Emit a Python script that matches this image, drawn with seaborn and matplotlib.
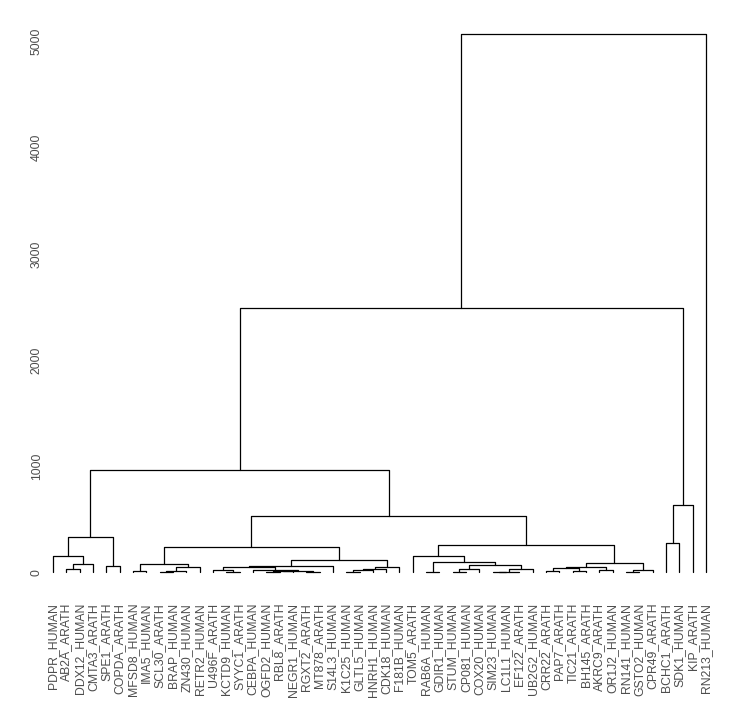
import numpy as np
import pandas as pd
import matplotlib
matplotlib.use("Agg")
import matplotlib.pyplot as plt
import seaborn as sns

# Folhas na ordem em que aparecem no eixo x
labels = [
    "PDPR_HUMAN", "AB2A_ARATH", "DDX12_HUMAN", "CMTA3_ARATH", "SPE1_ARATH",
    "COPDA_ARATH", "MFSD8_HUMAN", "IMA5_HUMAN", "SCL30_ARATH", "BRAP_HUMAN",
    "ZN430_HUMAN", "RETR2_HUMAN", "U496F_ARATH", "KCTD9_HUMAN", "SYYC1_ARATH",
    "CEBPA_HUMAN", "OGFD2_HUMAN", "RBL8_ARATH", "NEGR1_HUMAN", "RGXT2_ARATH",
    "MT878_ARATH", "S14L3_HUMAN", "K1C25_HUMAN", "GLTL5_HUMAN", "HNRH1_HUMAN",
    "CDK18_HUMAN", "F181B_HUMAN", "TOM5_ARATH", "RAB6A_HUMAN", "GDIR1_HUMAN",
    "STUM_HUMAN", "CP081_HUMAN", "COX20_HUMAN", "SIM23_HUMAN", "LC1L1_HUMAN",
    "EF122_ARATH", "UB2G2_HUMAN", "CRR22_ARATH", "PAP7_ARATH", "TIC21_ARATH",
    "BH145_ARATH", "AKRC9_ARATH", "OR1J2_HUMAN", "RN141_HUMAN", "GSTO2_HUMAN",
    "CPR49_ARATH", "BCHC1_ARATH", "SDK1_HUMAN", "KIP_ARATH", "RN213_HUMAN",
]

# Matriz de fusões no estilo do hclust do R:
# negativo = folha (posição no eixo), positivo = fusão anterior (1-based)
merge_left = [
    -2, 1, -1, -5, 3, -7, -9, 7, 8, 6,
    -14, -13, -17, 13, -20, 14, -16, 12, 18, -23,
    20, 21, 22, 19, 10, -29, -31, 27, -34, 29,
    30, 28, 26, -28, -38, -40, 35, -42, 37, -44,
    40, 39, 34, 25, 5, -47, 46, 45, 48,
]
merge_right = [
    -3, -4, 2, -6, 4, -8, -10, -11, -12, 9,
    -15, 11, -18, -19, -21, 15, 16, 17, -22, -24,
    -25, -26, -27, 23, 24, -30, -32, -33, -35, -36,
    -37, 31, 32, 33, -39, -41, 36, -43, 38, -45,
    -46, 41, 42, 43, 44, -48, -49, 47, -50,
]
merge_height = [
    33, 80, 155, 61, 334, 17, 5, 17, 49, 80,
    5, 25, 5, 10, 7, 15, 22, 55, 62, 8,
    20, 33, 55, 118, 243, 5, 3, 30, 3, 8,
    30, 68, 96, 155, 17, 17, 45, 24, 55, 5,
    24, 87, 254, 532, 965, 278, 636, 2490, 5071,
]

# Posição x e altura de cada nó
node_x = []
node_h = []


def child_pos(c):
    if c < 0:
        return float(-c), 0.0
    return node_x[c - 1], node_h[c - 1]


rows = []
for i, (l, r, h) in enumerate(zip(merge_left, merge_right, merge_height)):
    xl, hl = child_pos(l)
    xr, hr = child_pos(r)
    node_x.append((xl + xr) / 2)
    node_h.append(h)
    # cada fusão vira um "U" invertido
    for k, (x, y) in enumerate([(xl, hl), (xl, h), (xr, h), (xr, hr)]):
        rows.append({"node": i, "ordem": k, "x": x, "y": y})

seg = pd.DataFrame(rows)

sns.set_theme(style="white")
plt.rcParams["font.family"] = ["Liberation Sans", "DejaVu Sans"]

fig = plt.figure(figsize=(7.46, 7.23), dpi=100)
ax = fig.add_axes([45 / 746, (723 - 599.4) / 723, (714 - 45) / 746, (599.4 - 7) / 723])

sns.lineplot(data=seg, x="x", y="y", units="node", estimator=None, sort=False,
             color="black", linewidth=0.9, ax=ax)

n = len(labels)
ax.set_xlim(0.4, n + 0.6)
top = max(merge_height)
ax.set_ylim(-0.05 * top, top * 1.05)

ax.set_xticks(np.arange(1, n + 1))
ax.set_xticklabels(labels, rotation=90, ha="center", va="top",
                   fontsize=8.8, color="#4D4D4D")
ax.set_yticks([0, 1000, 2000, 3000, 4000, 5000])
ax.set_yticklabels(["0", "1000", "2000", "3000", "4000", "5000"],
                   rotation=90, va="center", fontsize=8.8, color="#4D4D4D")
ax.tick_params(axis="x", length=0, pad=2.5)
ax.tick_params(axis="y", length=0, pad=1.5)
ax.set_xlabel("")
ax.set_ylabel("")
for s in ax.spines.values():
    s.set_visible(False)
ax.grid(False)

fig.savefig("out.png", dpi=100)
